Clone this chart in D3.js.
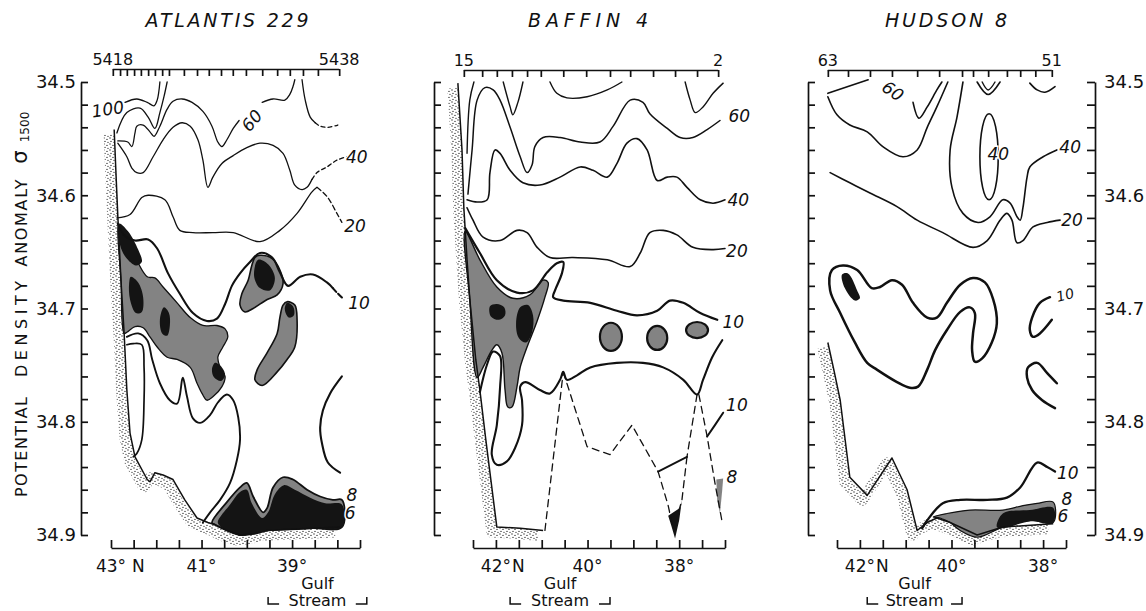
<!DOCTYPE html>
<html><head><meta charset="utf-8">
<script src="https://cdn.jsdelivr.net/npm/d3@7"></script>
<style>
body{margin:0;background:#fff;}
svg{display:block;}
text{font-family:"DejaVu Sans",sans-serif;fill:#111;}
</style></head><body>
<svg id="c" width="1146" height="611"></svg>
<script>
// ---------- axis data ----------
const sigmaMajor = [34.5, 34.6, 34.7, 34.8, 34.9];
const sigmaMinor = [34.50,34.52,34.54,34.56,34.58,34.60,34.62,34.64,34.66,34.68,34.70,34.72,34.74,34.76,34.78,34.80,34.82,34.84,34.86,34.88,34.90];
const panelTitles = ["ATLANTIS 229", "BAFFIN 4", "HUDSON 8"];
const stationLabels = [["5418","5438"], ["15","2"], ["63","51"]];
const atlStations = [42.96,42.80,42.65,42.49,42.34,42.18,42.03,41.87,41.72,41.39,41.10,40.84,40.57,40.31,40.02,39.66,39.33,39.05,38.76,38.43,37.96];
const bafStations = [42.70,42.30,41.98,41.65,41.32,41.02,40.53,40.03,39.51,39.07,38.57,38.09,37.61,37.15];
const hudStations = [42.70,42.26,41.78,41.30,40.75,40.27,39.77,39.53,39.20,38.79,38.50,38.17,37.81];
const atlLatTicks = [43,42.5,42,41.5,41,40.5,40,39.5,39,38.5,38,37.5];
const bafLatTicks = [42.5,42,41.5,41,40.5,40,39.5,39,38.5,38,37.5,37];
const hudLatTicks = [42.5,42,41.5,41,40.5,40,39.5,39,38.5,38,37.5];
const atlLatLabels = [{lat:43,t:"43°",suf:" N"},{lat:41,t:"41°",suf:""},{lat:39,t:"39°",suf:""}];
const bafLatLabels = [{lat:42,t:"42°",suf:"N"},{lat:40,t:"40°",suf:""},{lat:38,t:"38°",suf:""}];
const hudLatLabels = [{lat:42,t:"42°",suf:"N"},{lat:40,t:"40°",suf:""},{lat:38,t:"38°",suf:""}];
const atlGulf = [39.53, 37.35];
const bafGulf = [41.69, 39.51];
const hudGulf = [41.84, 39.77];

// ---------- ATLANTIS 229 contours [lat, sigma] ----------
const atl_coast = [[42.93,34.542],[42.89,34.581],[42.85,34.618],[42.78,34.675],[42.71,34.722],[42.65,34.772],[42.58,34.810],[42.47,34.831],[42.20,34.851],[42.14,34.853],[42.03,34.845],[41.85,34.847],[41.63,34.851],[41.37,34.869],[41.10,34.885],[40.86,34.889],[40.70,34.891],[40.44,34.896],[40.15,34.900],[39.86,34.899],[39.55,34.896],[39.05,34.895],[38.54,34.894],[37.94,34.893]];
const atl_c100 = [[42.69,34.518],[42.43,34.515],[42.20,34.518],[42.05,34.521],[41.98,34.516],[41.92,34.500]];
const atl_cB = [[42.87,34.545],[42.65,34.527],[42.36,34.523],[42.18,34.531],[42.03,34.541],[41.92,34.527],[41.83,34.513],[41.76,34.500]];
const atl_c60a = [[42.85,34.552],[42.63,34.553],[42.54,34.557],[42.47,34.545],[42.43,34.539],[42.29,34.538],[42.14,34.544],[42.05,34.548],[41.92,34.539],[41.76,34.524],[41.63,34.517],[41.43,34.515],[41.21,34.518],[40.97,34.526],[40.77,34.539],[40.64,34.553],[40.55,34.557],[40.44,34.551],[40.30,34.541],[40.17,34.534]];
const atl_c60b = [[39.66,34.518],[39.42,34.515],[39.16,34.516],[39.05,34.511],[38.98,34.504],[38.94,34.498]];
const atl_c40 = [[42.85,34.554],[42.65,34.566],[42.54,34.576],[42.43,34.580],[42.29,34.580],[42.07,34.566],[41.85,34.551],[41.63,34.540],[41.43,34.536],[41.25,34.539],[41.08,34.551],[40.97,34.569],[40.86,34.593],[40.75,34.584],[40.55,34.572],[40.30,34.565],[40.00,34.558],[39.71,34.554],[39.42,34.556],[39.20,34.563],[39.05,34.578],[38.94,34.591],[38.78,34.595],[38.67,34.593],[38.56,34.586]];
const atl_c40d = [[38.56,34.586],[38.45,34.580],[38.23,34.575],[38.01,34.569],[37.79,34.566]];
const atl_c20 = [[42.87,34.620],[42.58,34.617],[42.32,34.602],[42.18,34.600],[41.81,34.604],[41.63,34.619],[41.48,34.631],[41.19,34.633],[40.75,34.633],[40.30,34.633],[39.71,34.641],[39.27,34.631],[38.89,34.616],[38.56,34.597],[38.45,34.593]];
const atl_c20d = [[38.45,34.593],[38.23,34.601],[38.01,34.616],[37.90,34.624]];
const atl_c10 = [[42.85,34.625],[42.69,34.636],[42.47,34.640],[42.18,34.639],[41.98,34.647],[41.74,34.669],[41.48,34.687],[41.19,34.704],[40.88,34.711],[40.66,34.709],[40.48,34.696],[40.33,34.680],[40.15,34.669],[39.93,34.659],[39.71,34.651],[39.44,34.655],[39.27,34.668],[39.09,34.680],[38.82,34.672],[38.54,34.670],[38.23,34.677],[38.10,34.682]];
const atl_c10d = [[38.10,34.682],[38.01,34.686],[37.88,34.691]];
const atl_shade1 = [[42.84,34.627],[42.69,34.642],[42.47,34.655],[42.20,34.672],[42.03,34.673],[41.85,34.681],[41.54,34.695],[41.25,34.708],[40.97,34.715],[40.66,34.715],[40.48,34.718],[40.42,34.725],[40.53,34.734],[40.64,34.743],[40.59,34.752],[40.48,34.760],[40.55,34.769],[40.75,34.778],[40.88,34.781],[40.99,34.775],[41.10,34.766],[41.25,34.752],[41.54,34.745],[41.76,34.743],[41.98,34.734],[42.14,34.725],[42.29,34.717],[42.47,34.716],[42.65,34.721],[42.71,34.722],[42.78,34.675]];
const atl_core1a = [[42.82,34.625],[42.62,34.632],[42.40,34.648],[42.32,34.659],[42.45,34.662],[42.67,34.655],[42.80,34.644]];
const atl_core1b = [[42.56,34.672],[42.40,34.677],[42.29,34.690],[42.32,34.703],[42.45,34.704],[42.58,34.692],[42.60,34.678]];
const atl_core1c = [[41.83,34.699],[41.72,34.704],[41.70,34.715],[41.76,34.724],[41.87,34.722],[41.92,34.710]];
const atl_core1d = [[40.70,34.748],[40.55,34.752],[40.48,34.759],[40.57,34.764],[40.72,34.761],[40.77,34.754]];
const atl_shade2 = [[39.71,34.653],[39.44,34.656],[39.27,34.666],[39.20,34.678],[39.33,34.688],[39.55,34.692],[39.86,34.700],[40.04,34.703],[40.15,34.697],[40.11,34.687],[39.97,34.675],[39.89,34.662],[39.82,34.655]];
const atl_core2 = [[39.75,34.657],[39.53,34.661],[39.38,34.673],[39.49,34.684],[39.71,34.682],[39.84,34.671]];
const atl_shade3 = [[39.11,34.694],[38.94,34.697],[38.89,34.710],[38.94,34.734],[39.11,34.745],[39.33,34.756],[39.66,34.768],[39.82,34.763],[39.77,34.754],[39.55,34.739],[39.33,34.722],[39.27,34.708],[39.20,34.697]];
const atl_core3 = [[39.11,34.695],[38.98,34.698],[38.96,34.706],[39.07,34.708],[39.16,34.701]];
const atl_j1 = [[42.65,34.725],[42.40,34.722],[42.20,34.728],[42.09,34.745],[41.92,34.766],[41.70,34.781],[41.54,34.784],[41.43,34.763],[41.41,34.761],[41.32,34.778],[41.19,34.797],[41.03,34.801],[40.81,34.794],[40.64,34.783],[40.44,34.776],[40.30,34.781],[40.19,34.796],[40.15,34.816],[40.22,34.834],[40.37,34.854],[40.59,34.869],[40.81,34.880],[40.97,34.889]];
const atl_j2 = [[42.65,34.732],[42.51,34.731],[42.32,34.732],[42.27,34.752],[42.27,34.781],[42.32,34.816],[42.43,34.828],[42.51,34.831]];
const atl_k = [[37.90,34.760],[38.16,34.775],[38.32,34.790],[38.38,34.805],[38.34,34.819],[38.21,34.836],[37.94,34.845]];
const atl_c8 = [[40.77,34.889],[40.44,34.871],[40.15,34.858],[40.00,34.854],[39.86,34.866],[39.64,34.880],[39.55,34.876],[39.42,34.858],[39.20,34.849],[38.98,34.851],[38.67,34.860],[38.38,34.866],[38.10,34.869],[37.90,34.869],[37.90,34.893],[38.54,34.894],[39.05,34.895],[39.55,34.896],[39.86,34.899],[40.15,34.900],[40.44,34.896],[40.70,34.891]];
const atl_c6 = [[40.64,34.888],[40.37,34.873],[40.15,34.862],[40.00,34.860],[39.89,34.872],[39.66,34.885],[39.53,34.880],[39.38,34.864],[39.18,34.856],[38.94,34.860],[38.60,34.867],[38.27,34.872],[37.90,34.873],[37.90,34.893],[38.54,34.894],[39.05,34.895],[39.55,34.896],[39.86,34.899],[40.15,34.900],[40.44,34.896],[40.62,34.891]];
const atl_topR = [[38.78,34.498],[38.71,34.516],[38.60,34.531],[38.49,34.536]];
const atl_topRd = [[38.49,34.536],[38.38,34.539],[38.21,34.540],[37.99,34.538]];
const atlLabels = [{t:"100",lat:43.07,s:34.524,r:-8},{t:"60",lat:39.89,s:34.534,r:-50},{t:"40",lat:37.57,s:34.566,r:0},{t:"20",lat:37.61,s:34.627,r:0},{t:"10",lat:37.52,s:34.695,r:0},{t:"8",lat:37.68,s:34.865,r:0},{t:"6",lat:37.72,s:34.881,r:0}];

// ---------- BAFFIN 4 contours ----------
const baf_coast = [[42.83,34.501],[42.74,34.560],[42.70,34.611],[42.63,34.657],[42.57,34.692],[42.44,34.745],[42.35,34.772],[42.22,34.816],[41.98,34.893],[41.47,34.894],[40.97,34.896]];
const baf_a = [[42.63,34.563],[42.57,34.516],[42.48,34.500]];
const baf_60 = [[42.61,34.599],[42.52,34.560],[42.41,34.516],[42.24,34.505],[42.06,34.507],[41.91,34.516],[41.69,34.540],[41.47,34.566],[41.32,34.580],[41.21,34.573],[41.15,34.557],[40.97,34.549],[40.60,34.549],[40.16,34.553],[39.73,34.553],[39.44,34.539],[39.07,34.516],[38.79,34.518],[38.64,34.528],[38.26,34.541],[37.98,34.549],[37.70,34.549],[37.39,34.542],[37.11,34.534]];
const baf_v = [[41.84,34.500],[41.69,34.522],[41.63,34.529],[41.52,34.518],[41.41,34.500]];
const baf_d = [[40.82,34.500],[40.67,34.510],[40.45,34.514],[40.01,34.513],[39.57,34.507],[39.25,34.500]];
const baf_e = [[37.87,34.500],[37.76,34.516],[37.65,34.527],[37.48,34.522],[37.26,34.510],[37.04,34.501]];
const baf_40 = [[42.63,34.604],[42.41,34.606],[42.19,34.604],[42.13,34.580],[42.02,34.560],[41.91,34.563],[41.69,34.578],[41.41,34.589],[41.04,34.591],[40.60,34.584],[40.16,34.575],[39.88,34.578],[39.57,34.584],[39.36,34.572],[39.14,34.554],[38.92,34.550],[38.70,34.560],[38.48,34.587],[38.26,34.584],[38.05,34.584],[37.83,34.593],[37.54,34.604],[37.26,34.607],[37.00,34.604]];
const baf_20 = [[42.63,34.611],[42.50,34.622],[42.28,34.637],[41.91,34.640],[41.54,34.631],[41.32,34.633],[41.10,34.646],[40.82,34.655],[40.32,34.655],[39.57,34.657],[39.07,34.663],[38.85,34.651],[38.64,34.633],[38.35,34.631],[38.05,34.635],[37.70,34.646],[37.26,34.648],[37.00,34.647]];
const baf_10u = [[42.67,34.629],[42.35,34.651],[41.98,34.675],[41.54,34.686],[41.19,34.684],[40.88,34.668],[40.67,34.660],[40.53,34.659],[40.56,34.669],[40.71,34.684],[40.75,34.690],[40.53,34.693],[39.94,34.695],[39.36,34.702],[38.92,34.706],[38.48,34.702],[38.20,34.693],[37.91,34.695],[37.54,34.704],[37.17,34.710]];
const baf_shade = [[42.67,34.632],[42.35,34.657],[41.98,34.681],[41.63,34.691],[41.26,34.688],[40.97,34.675],[40.86,34.677],[40.93,34.690],[41.10,34.711],[41.32,34.734],[41.47,34.752],[41.54,34.769],[41.65,34.787],[41.74,34.787],[41.80,34.772],[41.87,34.739],[41.98,34.732],[42.09,34.737],[42.28,34.752],[42.41,34.761],[42.57,34.692]];
const baf_core1 = [[42.13,34.698],[41.98,34.696],[41.82,34.699],[41.80,34.706],[41.93,34.710],[42.11,34.707]];
const baf_core2 = [[41.47,34.699],[41.30,34.697],[41.19,34.706],[41.21,34.721],[41.34,34.730],[41.50,34.726],[41.56,34.713]];
const baf_10l = [[42.35,34.774],[42.19,34.749],[42.06,34.738],[41.91,34.742],[41.91,34.770],[41.98,34.803],[42.09,34.829],[41.98,34.838],[41.76,34.835],[41.58,34.823],[41.43,34.803],[41.43,34.781],[41.47,34.769],[41.36,34.765],[41.04,34.772],[40.82,34.775],[40.60,34.763],[40.53,34.756],[40.45,34.763],[40.23,34.759],[39.94,34.752],[39.36,34.748],[38.79,34.748],[38.35,34.752],[37.91,34.763],[37.61,34.776],[37.48,34.763],[37.28,34.743],[37.06,34.728]];
const bafBlobs = [[39.49,34.725,0.24,0.0124],[38.48,34.726,0.22,0.0106],[37.61,34.719,0.24,0.0071]];
const baf_d1 = [[40.93,34.896],[40.53,34.756]];
const baf_d2 = [[40.53,34.756],[40.01,34.822],[39.51,34.829],[39.03,34.803],[38.46,34.844],[38.24,34.874],[38.15,34.891]];
const baf_s = [[38.46,34.844],[37.83,34.831]];
const baf_d3 = [[37.83,34.831],[37.94,34.869],[38.03,34.882]];
const baf_d4 = [[37.61,34.776],[37.83,34.831]];
const baf_d5 = [[37.57,34.776],[37.39,34.813],[37.22,34.854],[37.06,34.889]];
const baf_10b = [[37.39,34.813],[37.22,34.803],[37.04,34.792]];
const baf_spikeB = [[38.24,34.883],[37.98,34.876],[37.94,34.869],[38.00,34.887],[38.09,34.903],[38.17,34.892]];
const baf_spikeG = [[37.19,34.851],[37.04,34.850],[37.06,34.860],[37.11,34.881],[37.17,34.869]];
const bafLabels = [{t:"60",lat:36.69,s:34.530,r:0},{t:"40",lat:36.71,s:34.604,r:0},{t:"20",lat:36.74,s:34.649,r:0},{t:"10",lat:36.82,s:34.712,r:0},{t:"10",lat:36.74,s:34.785,r:0},{t:"8",lat:36.85,s:34.849,r:0}];

// ---------- HUDSON 8 contours ----------
const hud_coast = [[42.70,34.730],[42.57,34.754],[42.43,34.781],[42.22,34.849],[41.84,34.865],[41.30,34.832],[40.97,34.860],[40.75,34.896],[40.53,34.889],[40.32,34.885],[40.03,34.889],[39.44,34.900],[38.88,34.893],[37.78,34.890]];
const hud_60a = [[42.70,34.510],[41.82,34.498]];
const hud_60b = [[40.84,34.518],[40.71,34.532],[40.53,34.522],[40.32,34.507],[40.21,34.500]];
const hud_60c = [[42.70,34.513],[42.50,34.529],[42.22,34.538],[41.84,34.544],[41.50,34.557],[41.06,34.566],[40.75,34.560],[40.53,34.540],[40.32,34.522],[40.08,34.500]];
const hud_40 = [[39.75,34.500],[39.88,34.531],[40.03,34.560],[39.99,34.593],[39.75,34.616],[39.42,34.624],[39.16,34.619],[38.88,34.604],[38.72,34.607],[38.57,34.619],[38.50,34.622],[38.44,34.611],[38.35,34.584],[38.29,34.575],[38.00,34.566],[37.70,34.560]];
const hud_vO = [[39.44,34.500],[39.20,34.511],[38.94,34.500]];
const hud_vI = [[39.33,34.500],[39.20,34.507],[39.05,34.500]];
const hud_tr = [[38.29,34.501],[38.13,34.507],[37.96,34.509],[37.74,34.504]];
const hud_20 = [[42.65,34.580],[42.22,34.589],[41.78,34.598],[41.19,34.610],[40.75,34.622],[40.19,34.633],[39.53,34.646],[39.22,34.640],[38.94,34.622],[38.79,34.616],[38.68,34.622],[38.57,34.642],[38.44,34.640],[38.22,34.628],[37.91,34.624],[37.63,34.622]];
const hud_10loop = [[42.61,34.666],[42.37,34.662],[42.06,34.666],[41.74,34.682],[41.56,34.681],[41.30,34.675],[41.08,34.679],[40.84,34.695],[40.53,34.708],[40.32,34.708],[40.10,34.695],[39.81,34.679],[39.53,34.673],[39.27,34.677],[39.09,34.692],[39.01,34.713],[39.12,34.730],[39.33,34.744],[39.49,34.747],[39.55,34.737],[39.53,34.722],[39.49,34.704],[39.60,34.699],[39.81,34.703],[40.10,34.719],[40.36,34.737],[40.53,34.754],[40.73,34.769],[40.91,34.770],[41.19,34.765],[41.63,34.754],[41.84,34.748],[42.11,34.730],[42.43,34.704],[42.65,34.684]];
const hud_core = [[42.39,34.670],[42.26,34.669],[42.06,34.684],[42.00,34.691],[42.11,34.693],[42.33,34.682]];
const hud_10c = [[37.85,34.690],[38.07,34.695],[38.24,34.708],[38.29,34.719],[38.22,34.725],[38.07,34.722],[37.81,34.710]];
const hud_10u = [[37.70,34.766],[37.91,34.757],[38.13,34.748],[38.33,34.752],[38.35,34.761],[38.24,34.772],[38.02,34.781],[37.74,34.788]];
const hud_10low = [[40.64,34.894],[40.53,34.887],[40.19,34.872],[39.81,34.869],[39.22,34.869],[38.79,34.867],[38.50,34.858],[38.13,34.836],[37.91,34.840],[37.74,34.844]];
const hud_c8 = [[40.40,34.884],[40.10,34.881],[39.60,34.878],[38.88,34.878],[38.44,34.874],[38.13,34.872],[37.78,34.871],[37.78,34.889],[38.29,34.887],[38.88,34.893],[39.44,34.902],[39.81,34.896],[40.03,34.889],[40.25,34.885]];
const hud_c6 = [[39.01,34.893],[38.88,34.881],[38.29,34.878],[37.78,34.876],[37.78,34.889],[38.29,34.888],[38.88,34.894]];
const hudLoop40 = [[39.18,34.566,0.20,0.038]];
const hudLabels = [{t:"60",lat:41.28,s:34.508,r:35},{t:"40",lat:38.98,s:34.564,r:0},{t:"40",lat:37.41,s:34.557,r:0},{t:"20",lat:37.37,s:34.622,r:0},{t:"10",lat:37.52,s:34.688,r:-15,sz:14},{t:"10",lat:37.46,s:34.845,r:0},{t:"8",lat:37.48,s:34.868,r:0},{t:"6",lat:37.57,s:34.883,r:0}];

// ---------- drawing ----------
const GRAY = "#838383", BLACK = "#141414", INK = "#111";
const svg = d3.select("#c");
const defs = svg.append("defs");
const pat = defs.append("pattern").attr("id","stip").attr("width",6).attr("height",6).attr("patternUnits","userSpaceOnUse");
[[1,1],[4,2.4],[2,4.4],[5,5.3]].forEach(p=>pat.append("circle").attr("cx",p[0]).attr("cy",p[1]).attr("r",0.65).attr("fill","#222"));

const y = d3.scaleLinear().domain([34.5, 34.9]).range([82, 535]);

const panels = [
  {title:panelTitles[0], titleX:227, titleLen:163, dom:[43,37.5], rng:[111,360], stations:atlStations, stLab:stationLabels[0], topY:69,
   latTicks:atlLatTicks, latLabels:atlLatLabels, gulf:atlGulf, leftAxis:81, leftLabels:true, rightAxis:null, coast:atl_coast,
   fills:[{d:atl_shade1,c:GRAY,s:1.3},{d:atl_core1a,c:BLACK},{d:atl_core1b,c:BLACK},{d:atl_core1c,c:BLACK},{d:atl_core1d,c:BLACK},
          {d:atl_shade2,c:GRAY,s:1.6},{d:atl_core2,c:BLACK},{d:atl_shade3,c:GRAY,s:1.6},{d:atl_core3,c:BLACK},
          {d:atl_c8,c:GRAY,s:1.8},{d:atl_c6,c:BLACK}],
   ellipses:[],
   lines:[{d:atl_c100,w:1.3},{d:atl_cB,w:1.3},{d:atl_c60a,w:1.3},{d:atl_c60b,w:1.3},{d:atl_c40,w:1.3},{d:atl_c40d,w:1.3,dash:"4,3"},
          {d:atl_c20,w:1.3},{d:atl_c20d,w:1.3,dash:"5,3"},{d:atl_c10,w:2.1},{d:atl_c10d,w:2.1,dash:"5,3"},
          {d:atl_j1,w:1.9},{d:atl_j2,w:1.7},{d:atl_k,w:2.1},{d:atl_topR,w:1.3},{d:atl_topRd,w:1.3,dash:"4,3"}],
   labels:atlLabels},
  {title:panelTitles[1], titleX:588, titleLen:120, dom:[42.5,37], rng:[473,725], stations:bafStations, stLab:stationLabels[1], topY:70,
   latTicks:bafLatTicks, latLabels:bafLatLabels, gulf:bafGulf, leftAxis:434, leftLabels:false, rightAxis:null, coast:baf_coast,
   fills:[{d:baf_shade,c:GRAY,s:1.4},{d:baf_core1,c:BLACK},{d:baf_core2,c:BLACK},{d:baf_spikeB,c:BLACK,lin:true},{d:baf_spikeG,c:GRAY,lin:true}],
   ellipses:bafBlobs,
   lines:[{d:baf_a,w:1.4},{d:baf_60,w:1.5},{d:baf_v,w:1.4},{d:baf_d,w:1.4},{d:baf_e,w:1.4},{d:baf_40,w:1.6},{d:baf_20,w:1.6},
          {d:baf_10u,w:2.2},{d:baf_10l,w:2.1},
          {d:baf_d1,w:1.3,dash:"7,5",lin:true},{d:baf_d2,w:1.3,dash:"7,5",lin:true},{d:baf_s,w:1.8,lin:true},{d:baf_d3,w:1.3,dash:"7,5",lin:true},
          {d:baf_d4,w:1.3,dash:"7,5",lin:true},{d:baf_d5,w:1.3,dash:"7,5",lin:true},{d:baf_10b,w:2.0,lin:true}],
   labels:bafLabels},
  {title:panelTitles[2], titleX:946, titleLen:122, dom:[42.5,37.5], rng:[837,1066], stations:hudStations, stLab:stationLabels[2], topY:70,
   latTicks:hudLatTicks, latLabels:hudLatLabels, gulf:hudGulf, leftAxis:808, leftLabels:false, rightAxis:1095, coast:hud_coast,
   fills:[{d:hud_c8,c:GRAY,s:1.2},{d:hud_c6,c:BLACK},{d:hud_core,c:BLACK}],
   ellipses:[],
   outlines:hudLoop40,
   lines:[{d:hud_60a,w:1.6,lin:true},{d:hud_60b,w:1.6},{d:hud_60c,w:1.6},{d:hud_40,w:1.6},{d:hud_vO,w:1.6},{d:hud_vI,w:1.4},{d:hud_tr,w:1.6},
          {d:hud_20,w:1.6},{d:hud_10loop,w:2.5,closed:true},{d:hud_10c,w:2.5},{d:hud_10u,w:2.5},{d:hud_10low,w:2.3}],
   labels:hudLabels}
];

function styleAxis(g){
  g.selectAll("path,line").attr("stroke",INK).attr("stroke-width",1.7);
  g.selectAll("text").attr("font-family","DejaVu Sans").attr("fill",INK);
}

panels.forEach(p=>{
  const x = d3.scaleLinear().domain(p.dom).range(p.rng);
  const g = svg.append("g");
  const mk = c => d3.line().x(d=>x(d[0])).y(d=>y(d[1])).curve(c);
  const smooth = mk(d3.curveCatmullRom.alpha(0.5));
  const smoothC = mk(d3.curveCatmullRomClosed.alpha(0.5));
  const lin = mk(d3.curveLinear);
  const linC = mk(d3.curveLinearClosed);

  // stippled sea floor / slope
  g.append("path").attr("d", lin(p.coast)).attr("transform","translate(-5,5)")
    .attr("fill","none").attr("stroke","url(#stip)").attr("stroke-width",11).attr("stroke-linejoin","round");

  p.fills.forEach(f=>{
    g.append("path").attr("d",(f.lin?linC:smoothC)(f.d)).attr("fill",f.c)
      .attr("stroke",f.s?INK:"none").attr("stroke-width",f.s||0).attr("stroke-linejoin","round");
  });
  p.ellipses.forEach(e=>{
    g.append("ellipse").attr("cx",x(e[0])).attr("cy",y(e[1]))
      .attr("rx",Math.abs(x(e[0]-e[2])-x(e[0]))).attr("ry",Math.abs(y(e[1]+e[3])-y(e[1])))
      .attr("fill",GRAY).attr("stroke",INK).attr("stroke-width",2.2);
  });
  (p.outlines||[]).forEach(e=>{
    g.append("ellipse").attr("cx",x(e[0])).attr("cy",y(e[1]))
      .attr("rx",Math.abs(x(e[0]-e[2])-x(e[0]))).attr("ry",Math.abs(y(e[1]+e[3])-y(e[1])))
      .attr("fill","none").attr("stroke",INK).attr("stroke-width",1.6);
  });
  p.lines.forEach(l=>{
    const gen = l.closed ? smoothC : (l.lin ? lin : smooth);
    g.append("path").attr("d",gen(l.d)).attr("fill","none").attr("stroke",INK)
      .attr("stroke-width",l.w).attr("stroke-dasharray",l.dash||null)
      .attr("stroke-linecap","round").attr("stroke-linejoin","round");
  });
  g.append("path").attr("d",lin(p.coast)).attr("fill","none").attr("stroke",INK).attr("stroke-width",1.5).attr("stroke-linejoin","round");

  // contour labels
  p.labels.forEach(L=>{
    g.append("text").attr("transform",`translate(${x(L.lat)},${y(L.s)}) rotate(${L.r||0})`)
      .attr("text-anchor","middle").attr("dominant-baseline","central")
      .attr("font-style","italic").attr("font-size",L.sz||17)
      .attr("stroke","#fff").attr("stroke-width",3).attr("paint-order","stroke").text(L.t);
  });

  // left axis
  const axL = d3.axisLeft(y).tickValues(sigmaMinor).tickSize(-7).tickSizeOuter(0).tickPadding(5)
     .tickFormat(d => p.leftLabels && sigmaMajor.some(m=>Math.abs(m-d)<1e-9) ? d3.format(".1f")(d) : "");
  const gl = svg.append("g").attr("transform",`translate(${p.leftAxis},0)`).call(axL);
  styleAxis(gl); gl.selectAll("text").attr("font-size",18);
  if (p.rightAxis){
    const axR = d3.axisRight(y).tickValues(sigmaMinor).tickSize(-8).tickSizeOuter(0).tickPadding(9)
       .tickFormat(d => sigmaMajor.some(m=>Math.abs(m-d)<1e-9) ? d3.format(".1f")(d) : "");
    const gr = svg.append("g").attr("transform",`translate(${p.rightAxis},0)`).call(axR);
    styleAxis(gr); gr.selectAll("text").attr("font-size",18);
  }
  // bottom axis
  const axB = d3.axisBottom(x).tickValues(p.latTicks).tickSize(-8).tickSizeOuter(0).tickFormat("");
  const gb = svg.append("g").attr("transform","translate(0,548)").call(axB);
  styleAxis(gb);
  p.latLabels.forEach(L=>{
    const t = svg.append("text").attr("x",x(L.lat)).attr("y",572).attr("text-anchor","middle").attr("font-size",17).text(L.t);
    if (L.suf){
      const w = t.node().getComputedTextLength();
      const sp = L.suf.startsWith(" ") ? 6 : 1;
      svg.append("text").attr("x",x(L.lat)+w/2+sp).attr("y",572).attr("font-size",17).text(L.suf.trim());
    }
  });
  // top station axis
  const axT = d3.axisTop(x).tickValues(p.stations).tickSize(-7).tickSizeOuter(0).tickFormat("");
  const gt = svg.append("g").attr("transform",`translate(0,${p.topY})`).call(axT);
  gt.select(".domain").remove();
  gt.append("line").attr("x1",x(p.stations[0])).attr("x2",x(p.stations[p.stations.length-1])).attr("y1",0.5).attr("y2",0.5);
  styleAxis(gt);
  [0, p.stations.length-1].forEach((i,k)=>{
    svg.append("text").attr("x",x(p.stations[i])).attr("y",p.topY-4).attr("text-anchor","middle").attr("font-size",16).text(p.stLab[k]);
  });
  // title
  svg.append("text").attr("x",p.titleX).attr("y",27).attr("text-anchor","middle").attr("font-style","italic")
     .attr("font-size",19).attr("textLength",p.titleLen).attr("lengthAdjust","spacing").text(p.title);
  // Gulf Stream bracket
  const xa = x(p.gulf[0]), xb = x(p.gulf[1]), xm = (xa+xb)/2;
  svg.append("text").attr("x",xm).attr("y",589).attr("text-anchor","middle").attr("font-size",16).text("Gulf");
  svg.append("text").attr("x",xm).attr("y",606).attr("text-anchor","middle").attr("font-size",16).text("Stream");
  svg.append("path").attr("d",`M${xa},597V604H${xa+11}M${xb-11},604H${xb}V597`)
     .attr("fill","none").attr("stroke",INK).attr("stroke-width",1.5);
});

// y axis title
const yl = [{t:"POTENTIAL",c:447,len:100},{t:"DENSITY",c:329,len:96},{t:"ANOMALY",c:223,len:87}];
yl.forEach(o=>{
  svg.append("text").attr("transform",`translate(27,${o.c}) rotate(-90)`).attr("text-anchor","middle")
    .attr("font-size",16).attr("textLength",o.len).attr("lengthAdjust","spacing").text(o.t);
});
svg.append("text").attr("transform","translate(27,157) rotate(-90)").attr("text-anchor","middle").attr("font-size",21).text("σ");
svg.append("text").attr("transform","translate(29,127) rotate(-90)").attr("text-anchor","middle").attr("font-size",12).text("1500");
</script></body></html>
